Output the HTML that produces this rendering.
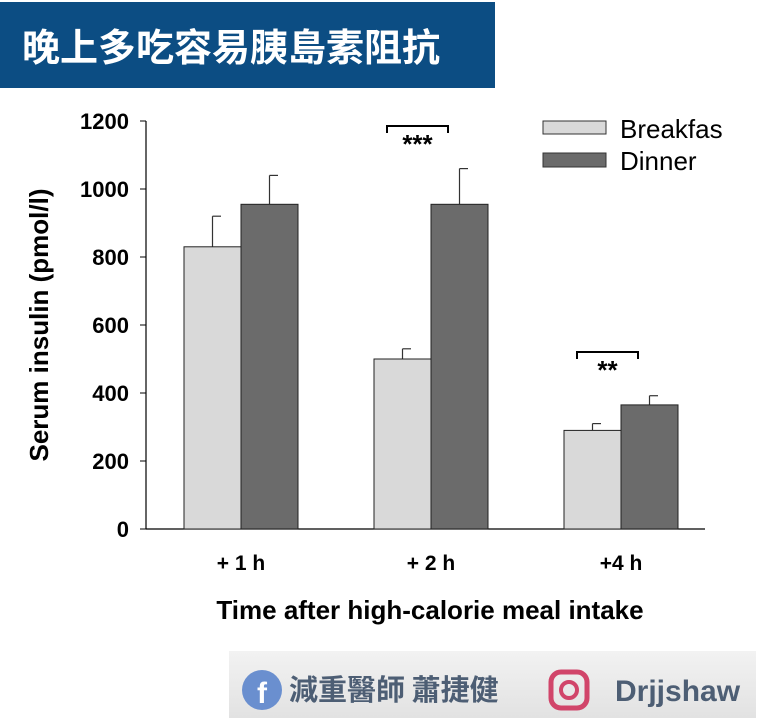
<!DOCTYPE html>
<html><head><meta charset="utf-8"><style>
body{margin:0;width:760px;height:724px;background:#fff;overflow:hidden;font-family:"Liberation Sans","Noto Sans CJK TC",sans-serif;position:relative}
#banner{position:absolute;left:0;top:2px;width:495px;height:86px;background:#0c4d83;color:#fff;font:bold 38px "Noto Sans CJK TC",sans-serif;line-height:86px;padding-left:22px;box-sizing:border-box;letter-spacing:0px}
#footer{position:absolute;left:229px;top:651px;width:527px;height:67px;background:linear-gradient(#f2f2f2,#e2e2e2)}
</style></head><body>
<div id="banner">晚上多吃容易胰島素阻抗</div>
<svg id="chart" width="760" height="724" style="position:absolute;left:0;top:0">
<defs><clipPath id="lc"><rect x="600" y="100" width="122" height="100"/></clipPath></defs>
<g id="g"></g>
</svg>
<div id="footer">
<svg width="527" height="67" style="position:absolute;left:0;top:0">
<circle cx="33" cy="39" r="20" fill="#6a8fcf"/>
<text x="33" y="52" text-anchor="middle" font-family="Liberation Sans" font-weight="bold" font-size="30" fill="#fff">f</text>
<text x="60" y="49" font-family="Noto Sans CJK TC" font-weight="bold" font-size="29" fill="#4d5e74">減重醫師 蕭捷健</text>
<rect x="322" y="21" width="36" height="36" rx="10" fill="none" stroke="#d1456a" stroke-width="5"/>
<circle cx="340" cy="39" r="8" fill="none" stroke="#d1456a" stroke-width="4"/>
<text x="386" y="50" font-family="Liberation Sans" font-weight="bold" font-size="30" fill="#4d5e74">Drjjshaw</text>
</svg></div>
<script>
const categories=["+ 1 h","+ 2 h","+4 h"];
const breakfast=[830,500,290];
const breakfastErr=[920,530,310];
const dinner=[955,955,365];
const dinnerErr=[1040,1060,392];
const yTicks=[0,200,400,600,800,1000,1200];
const NS="http://www.w3.org/2000/svg";
const g=document.getElementById('g');
const y=v=>529-v*0.34;
const gx=i=>241+i*190;
function mk(t,a,txt){const e=document.createElementNS(NS,t);for(const k in a)e.setAttribute(k,a[k]);if(txt!=null)e.textContent=txt;g.appendChild(e);return e;}
let e;
e=mk('line',{x1:146,y1:121,x2:146,y2:529,stroke:'#000','stroke-width':1.2});


e=mk('line',{x1:146,y1:529,x2:705,y2:529,stroke:'#000','stroke-width':1.2});


yTicks.forEach(v=>{
 mk('line',{x1:140,y1:y(v),x2:146,y2:y(v),stroke:'#000'});
 e=mk('text',{x:129,y:y(v)+8,'text-anchor':'end','font-weight':'bold','font-size':22},v);
 
 
});
function bar(x,v,err,fill,name){
 mk('line',{x1:x+28.5,y1:y(err),x2:x+28.5,y2:y(v),stroke:'#333','stroke-width':1.2});
 mk('line',{x1:x+28.5,y1:y(err),x2:x+37,y2:y(err),stroke:'#333','stroke-width':1.2});
 e=mk('rect',{x:x,y:y(v),width:57,height:529-y(v),fill:fill,stroke:'#222','stroke-width':1});
 
 
}
categories.forEach((c,i)=>{
 bar(gx(i)-57,breakfast[i],breakfastErr[i],'#d9d9d9','bar-breakfast-'+i);
 bar(gx(i),dinner[i],dinnerErr[i],'#6b6b6b','bar-dinner-'+i);
 e=mk('text',{x:gx(i),y:570,'text-anchor':'middle','font-weight':'bold','font-size':21},c);
 
 
});
function sig(i,top,stars){
 const x1=gx(i)-44,x2=gx(i)+17;
 mk('path',{d:`M${x1} ${top+7}V${top}H${x2}V${top+7}`,fill:'none',stroke:'#000','stroke-width':2});
 e=mk('text',{x:(x1+x2)/2,y:top+27,'text-anchor':'middle','font-weight':'bold','font-size':26},stars);
 
 
}
sig(1,126,'***');sig(2,352,'**');
e=mk('text',{x:430,y:619,'text-anchor':'middle','font-weight':'bold','font-size':26},'Time after high-calorie meal intake');


e=mk('text',{x:0,y:0,transform:'translate(48,325) rotate(-90)','text-anchor':'middle','font-weight':'bold','font-size':26},'Serum insulin (pmol/l)');


e=mk('rect',{x:543,y:121,width:63,height:13,fill:'#d9d9d9',stroke:'#333'});


e=mk('rect',{x:543,y:153,width:63,height:14,fill:'#6b6b6b',stroke:'#333'});


e=mk('text',{x:620,y:138,'font-size':26,'clip-path':'url(#lc)'},'Breakfast');


e=mk('text',{x:620,y:170,'font-size':26},'Dinner');


</script>
</body></html>
